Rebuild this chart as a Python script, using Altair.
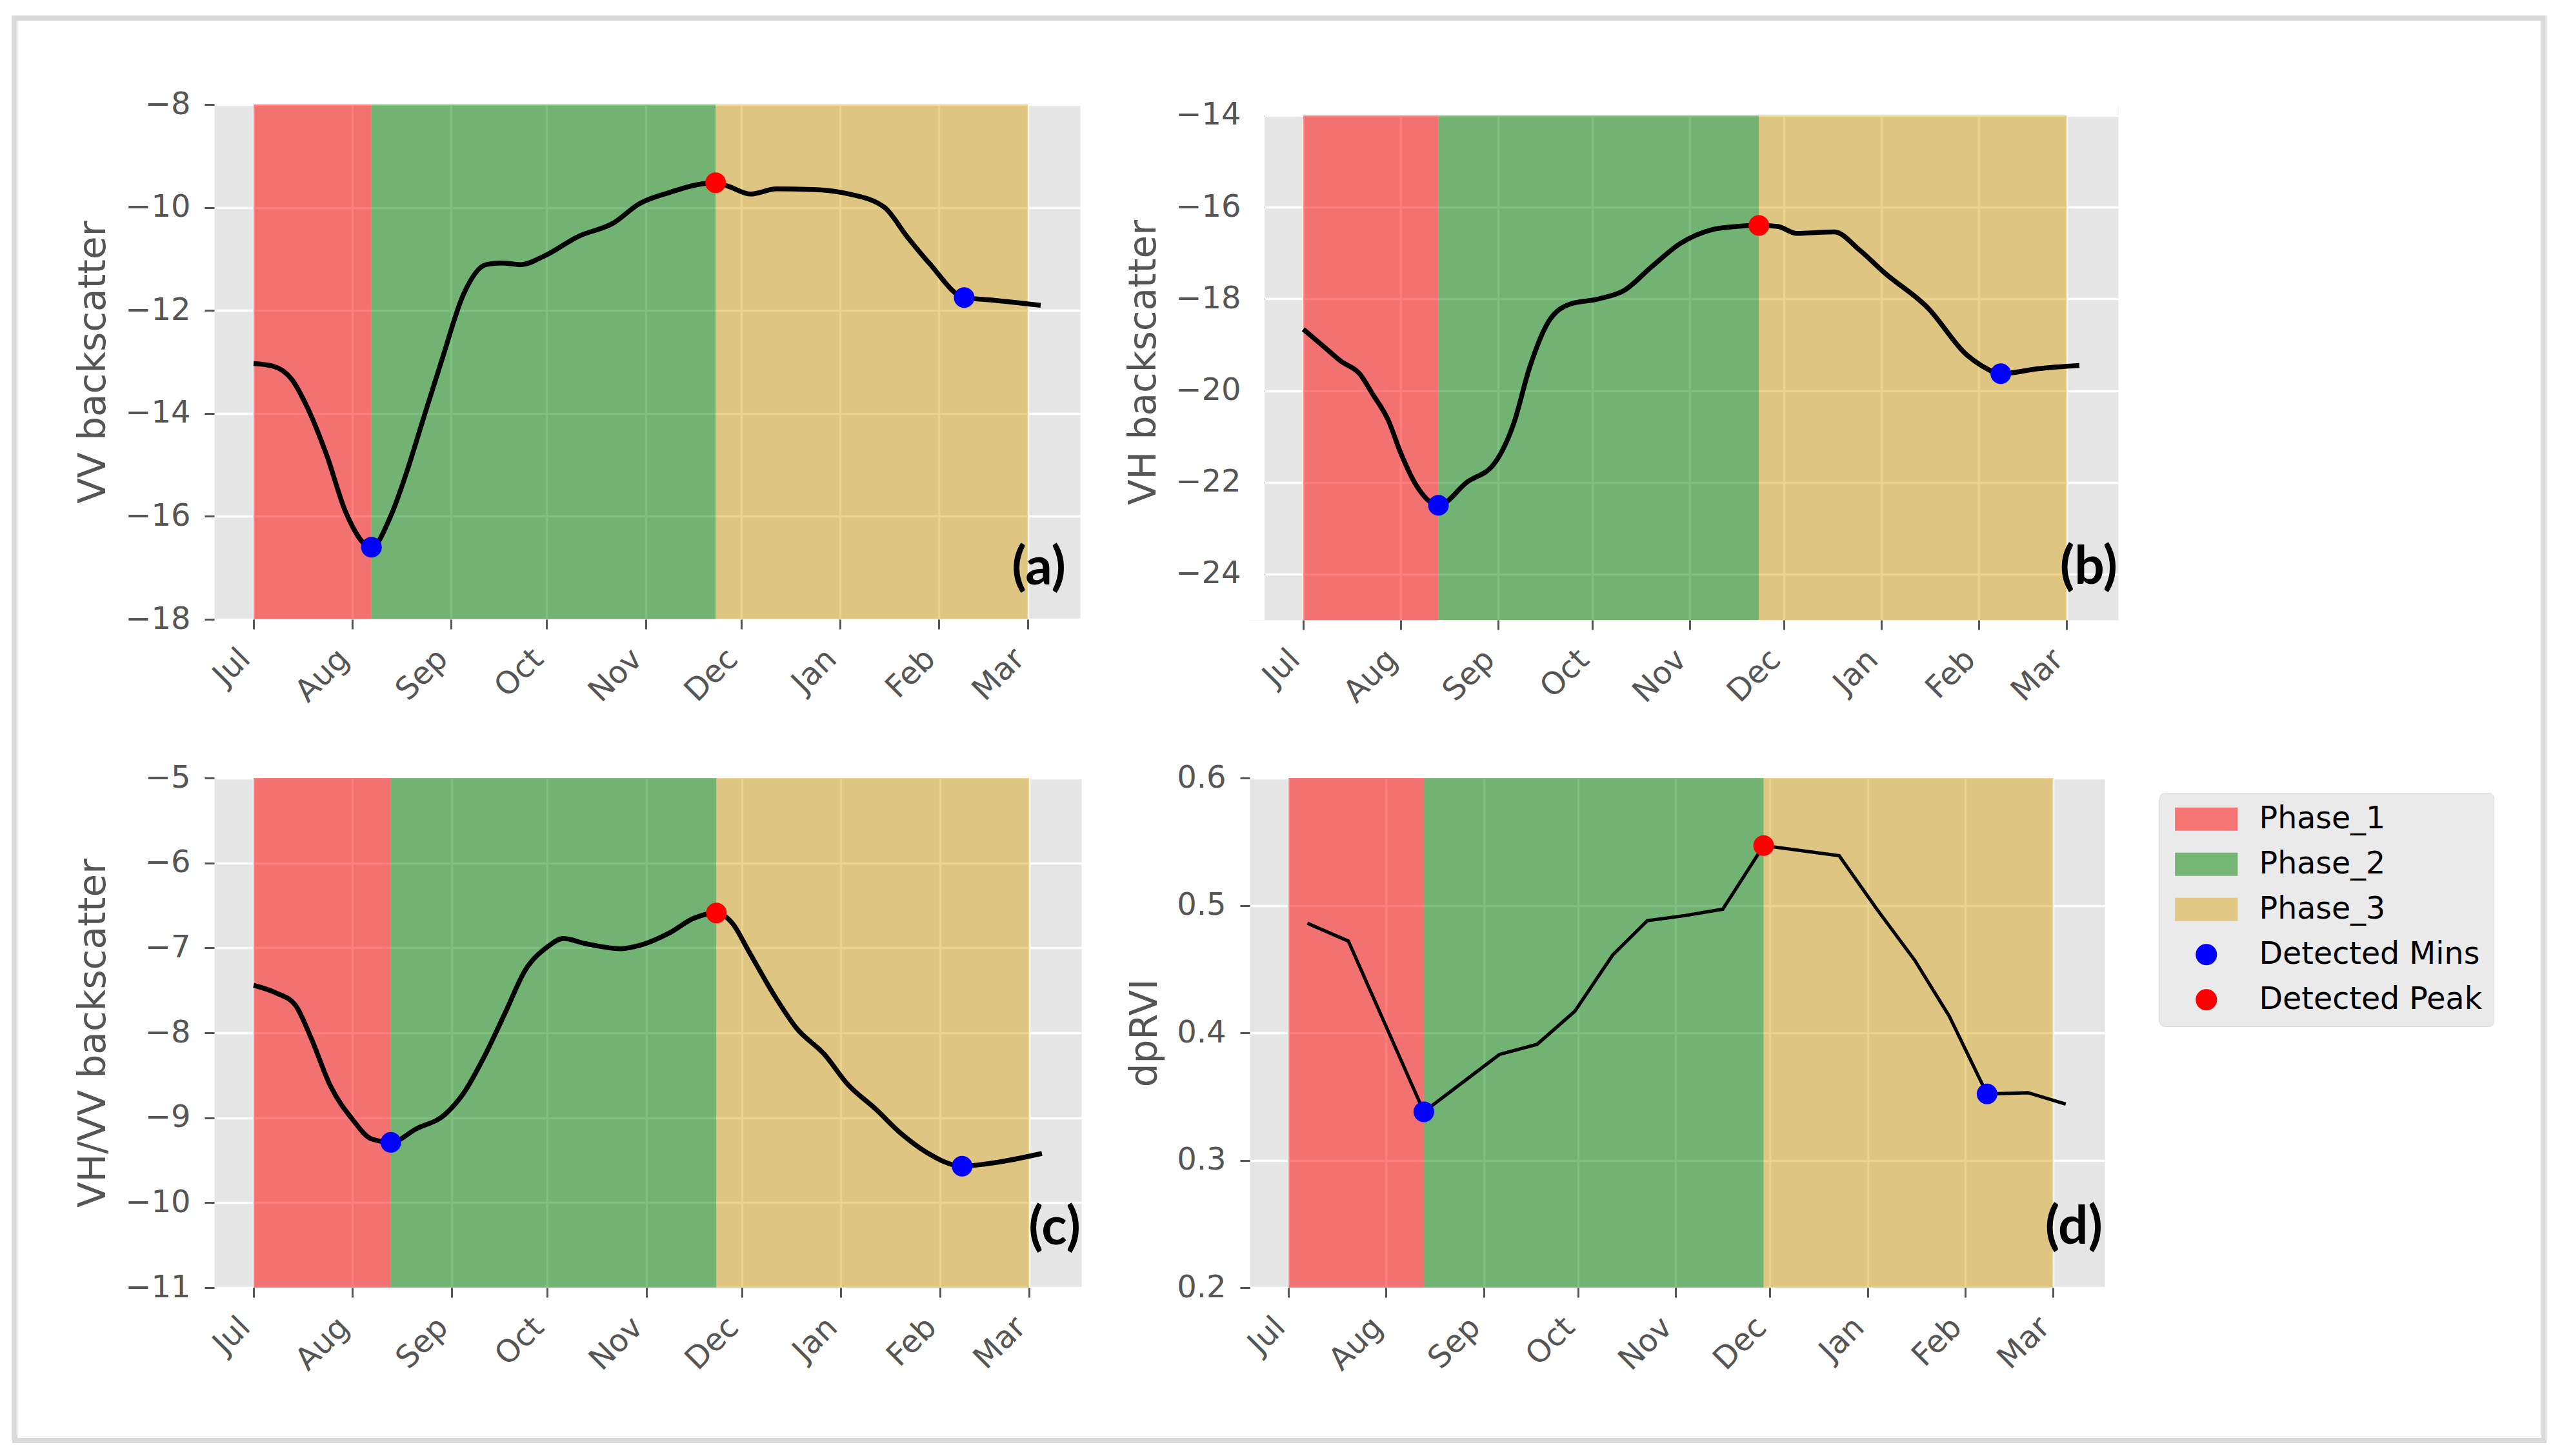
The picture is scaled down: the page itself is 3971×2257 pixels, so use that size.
import altair as alt
import pandas as pd

# ---------------- data ----------------
a_dates = ["2020-07-01", "2020-07-07", "2020-07-13", "2020-07-18", "2020-07-24", "2020-07-30",
           "2020-08-07", "2020-08-13", "2020-08-18", "2020-08-23", "2020-08-29", "2020-09-05",
           "2020-09-12", "2020-09-17", "2020-09-23", "2020-09-30", "2020-10-11", "2020-10-22",
           "2020-10-30", "2020-11-09", "2020-11-17", "2020-11-23", "2020-11-27", "2020-12-04",
           "2020-12-12", "2020-12-23", "2021-01-04", "2021-01-15", "2021-01-22", "2021-01-29",
           "2021-02-09", "2021-02-18", "2021-03-05"]
a_vals = [-13.03, -13.08, -13.34, -13.90, -14.82, -15.93, -16.60, -16.00, -15.15, -14.16, -12.98,
          -11.67, -11.11, -11.08, -11.11, -10.95, -10.56, -10.30, -9.93, -9.70, -9.56, -9.52,
          -9.59, -9.74, -9.64, -9.65, -9.74, -10.00, -10.56, -11.08, -11.75, -11.80, -11.90]
a_bounds = ["2020-07-01", "2020-08-07", "2020-11-23", "2021-03-01"]
a_min_dates = ["2020-08-07", "2021-02-09"]
a_min_vals = [-16.60, -11.75]
a_peak_date = "2020-11-23"
a_peak_val = -9.52

b_dates = ["2020-07-01", "2020-07-08", "2020-07-13", "2020-07-19", "2020-07-23", "2020-07-28",
           "2020-08-01", "2020-08-06", "2020-08-13", "2020-08-22", "2020-08-31", "2020-09-06",
           "2020-09-11", "2020-09-17", "2020-09-24", "2020-10-03", "2020-10-11", "2020-10-20",
           "2020-10-29", "2020-11-08", "2020-11-16", "2020-11-23", "2020-11-29", "2020-12-05",
           "2020-12-17", "2020-12-25", "2021-01-02", "2021-01-16", "2021-01-28", "2021-02-02",
           "2021-02-08", "2021-02-20", "2021-03-05"]
b_vals = [-18.66, -19.07, -19.36, -19.64, -20.07, -20.64, -21.36, -22.07, -22.50, -22.00, -21.57,
          -20.71, -19.50, -18.50, -18.11, -18.00, -17.82, -17.29, -16.79, -16.49, -16.42, -16.40,
          -16.42, -16.57, -16.54, -16.93, -17.43, -18.21, -19.21, -19.46, -19.63, -19.52, -19.45]
b_bounds = ["2020-07-01", "2020-08-13", "2020-11-23", "2021-03-01"]
b_min_dates = ["2020-08-13", "2021-02-08"]
b_min_vals = [-22.50, -19.63]
b_peak_date = "2020-11-23"
b_peak_val = -16.40

c_dates = ["2020-07-01", "2020-07-08", "2020-07-14", "2020-07-19", "2020-07-25", "2020-08-01",
           "2020-08-07", "2020-08-13", "2020-08-21", "2020-08-30", "2020-09-05", "2020-09-11",
           "2020-09-18", "2020-09-24", "2020-10-01", "2020-10-06", "2020-10-13", "2020-10-24",
           "2020-10-30", "2020-11-08", "2020-11-16", "2020-11-23", "2020-11-28", "2020-12-03",
           "2020-12-11", "2020-12-18", "2020-12-27", "2021-01-03", "2021-01-12", "2021-01-20",
           "2021-01-28", "2021-02-08", "2021-02-18", "2021-03-05"]
c_vals = [-7.44, -7.53, -7.67, -8.06, -8.62, -9.02, -9.25, -9.29, -9.13, -8.96, -8.70, -8.30,
          -7.75, -7.27, -6.99, -6.89, -6.95, -7.01, -6.97, -6.83, -6.65, -6.59, -6.71, -7.03,
          -7.55, -7.94, -8.26, -8.60, -8.90, -9.19, -9.41, -9.57, -9.53, -9.42]
c_bounds = ["2020-07-01", "2020-08-13", "2020-11-23", "2021-03-01"]
c_min_dates = ["2020-08-13", "2021-02-08"]
c_min_vals = [-9.29, -9.57]
c_peak_date = "2020-11-23"
c_peak_val = -6.59

d_dates = ["2020-07-07", "2020-07-20", "2020-08-13", "2020-09-06", "2020-09-18", "2020-09-30",
           "2020-10-12", "2020-10-23", "2020-11-04", "2020-11-16", "2020-11-29", "2020-12-23",
           "2021-01-04", "2021-01-16", "2021-01-27", "2021-02-08", "2021-02-21", "2021-03-05"]
d_vals = [0.486, 0.472, 0.338, 0.383, 0.391, 0.417, 0.461, 0.488, 0.492, 0.497, 0.547, 0.539,
          0.497, 0.457, 0.413, 0.352, 0.353, 0.344]
d_bounds = ["2020-07-01", "2020-08-13", "2020-11-29", "2021-03-01"]
d_min_dates = ["2020-08-13", "2021-02-08"]
d_min_vals = [0.338, 0.352]
d_peak_date = "2020-11-29"
d_peak_val = 0.547

LABELS = ["Phase_1", "Phase_2", "Phase_3", "Detected Mins", "Detected Peak"]
COLORS = ["rgba(255,0,0,0.5)", "rgba(0,128,0,0.5)", "rgba(218,165,32,0.5)", "#0000FF", "#FF0000"]
RECT_PATH = "M-2.7,-1H2.7V1H-2.7Z"
DOT_PATH = "M0.92,0A0.92,0.92,0,1,1,-0.92,0A0.92,0.92,0,1,1,0.92,0Z"
SHAPES = [RECT_PATH, RECT_PATH, RECT_PATH, DOT_PATH, DOT_PATH]
TAGS = ["(a)", "(b)", "(c)", "(d)"]


def utc(y, m, d, h=0, mi=0):
    return alt.DateTime(year=y, month=m, date=d, hours=h, minutes=mi, utc=True)


XDOM = [utc(2020, 6, 18, 15, 36), utc(2021, 3, 17, 8, 24)]
XDOM_B = [utc(2020, 6, 13, 22, 15), utc(2021, 3, 17, 8, 24)]   # panel b view starts 23px left of its plot
XTICKS = [utc(2020, m, 1) for m in range(7, 13)] + [utc(2021, m, 1) for m in range(1, 4)]


def panel(dates, vals, bounds, min_dates, min_vals, peak_date, peak_val,
          ydom, yticks, ytitle, tag, w, h, tag_x, tag_y, sw, interp, legend,
          yfmt=None, frame=False, xdom=XDOM, masks=(), yoffset=0):
    line_df = pd.DataFrame({"date": dates, "value": vals})
    phase_df = pd.DataFrame({"start": bounds[:-1], "end": bounds[1:], "label": LABELS[:3]})
    pts_df = pd.DataFrame({
        "date": min_dates + [peak_date],
        "value": min_vals + [peak_val],
        "label": ["Detected Mins"] * len(min_dates) + ["Detected Peak"],
    })
    tag_df = pd.DataFrame({"tag": [tag]})

    xscale = alt.Scale(type="utc", domain=xdom)
    xaxis = alt.Axis(values=XTICKS, labelExpr="utcFormat(datum.value, '%b')", title=None)
    yaxis_kw = dict(values=yticks, title=ytitle)
    if yfmt:
        yaxis_kw["format"] = yfmt
    if yoffset:
        yaxis_kw["offset"] = yoffset
    yenc = alt.Y("value:Q", scale=alt.Scale(domain=ydom, nice=False, zero=False),
                 axis=alt.Axis(**yaxis_kw))
    cscale = alt.Scale(domain=LABELS, range=COLORS)
    sscale = alt.Scale(domain=LABELS, range=SHAPES)

    rects = alt.Chart(phase_df).mark_rect().encode(
        x=alt.X("start:T", scale=xscale, axis=xaxis),
        x2="end:T",
        color=alt.Color("label:N", scale=cscale, legend=legend),
    )
    line = alt.Chart(line_df).mark_line(color="black", strokeWidth=sw, interpolate=interp).encode(
        x=alt.X("date:T", scale=xscale, axis=xaxis),
        y=yenc,
    )
    pts = alt.Chart(pts_df).mark_point(filled=True, opacity=1, size=1210, strokeWidth=0).encode(
        x=alt.X("date:T", scale=xscale, axis=xaxis),
        y=yenc,
        color=alt.Color("label:N", scale=cscale, legend=legend),
        shape=alt.Shape("label:N", scale=sscale, legend=legend),
    )
    layers = [rects, line, pts]
    for (mx, mx2, my, my2) in masks:
        layers.append(alt.Chart(tag_df).mark_rect(color="white").encode(
            x=alt.value(mx), x2=alt.value(mx2), y=alt.value(my), y2=alt.value(my2)))
    text = alt.Chart(tag_df).mark_text(
        align="right", baseline="middle", font="Lato", fontWeight="bold",
        fontSize=82, color="black",
    ).encode(text="tag:N", x=alt.value(tag_x), y=alt.value(tag_y))
    layers.append(text)
    if frame:
        border = alt.Chart(tag_df).mark_rect(
            fill="transparent", stroke="#D9D9D9", strokeWidth=8
        ).encode(x=alt.value(-309), x2=alt.value(3611), y=alt.value(-134), y2=alt.value(2071))
        layers.append(border)
    return alt.layer(*layers).properties(width=w, height=h)


legend_d = alt.Legend(
    orient="none", legendX=1410, legendY=23, title=None,
    symbolSize=1296, symbolOffset=32, labelOffset=58, symbolStrokeWidth=0,
    labelFont="DejaVu Sans", labelFontSize=47.5, labelColor="black", labelLimit=800,
    padding=17, rowPadding=21, fillColor="#EAEAEA", strokeColor="#DCDCDC", cornerRadius=8,
)

pa = panel(a_dates, a_vals, a_bounds, a_min_dates, a_min_vals, a_peak_date, a_peak_val,
           [-18, -8], [-18, -16, -14, -12, -10, -8], "VV backscatter", TAGS[0],
           1342, 798, 1320, 719, 7.5, "monotone", None, frame=True)
pb = panel(b_dates, b_vals, b_bounds, b_min_dates, b_min_vals, b_peak_date, b_peak_val,
           [-25, -13.761], [-24, -22, -20, -18, -16, -14], "VH backscatter", TAGS[1],
           1346, 799, 1345, 718, 7.5, "monotone", None,
           xdom=XDOM_B, masks=[(0, 1346, 0, 17), (0, 23, 0, 799)], yoffset=-23)
pc = panel(c_dates, c_vals, c_bounds, c_min_dates, c_min_vals, c_peak_date, c_peak_val,
           [-11, -5], [-11, -10, -9, -8, -7, -6, -5], "VH/VV backscatter", TAGS[2],
           1344, 790, 1343, 698, 7.5, "monotone", None)
pd_ = panel(d_dates, d_vals, d_bounds, d_min_dates, d_min_vals, d_peak_date, d_peak_val,
            [0.2, 0.6], [0.2, 0.3, 0.4, 0.5, 0.6], "dpRVI", TAGS[3],
            1325, 790, 1322, 697, 5.2, "linear", legend_d, yfmt=".1f")

chart = alt.concat(
    pa, pb, pc, pd_, columns=2, spacing={"row": 245, "column": 261},
    bounds="flush", align="each",
).resolve_scale(
    color="independent", shape="independent"
).resolve_legend(
    color="independent", shape="independent"
).properties(
    padding={"left": 10, "top": 15, "right": 10, "bottom": 5}
).configure(
    font="DejaVu Sans", background="white"
).configure_view(
    fill="#E5E5E5", stroke="transparent"
).configure_axis(
    labelFont="DejaVu Sans", labelFontSize=48, labelColor="#555555",
    titleFont="DejaVu Sans", titleFontSize=58, titleFontWeight="normal", titleColor="#555555",
    tickColor="#555555", tickSize=15, tickWidth=3, domain=False,
    gridColor="#FFFFFF", gridWidth=3.5, gridOpacity=1,
    labelFlush=False, labelOverlap=False,
).configure_axisX(
    labelAngle=315, labelAlign="right", labelBaseline="top", labelPadding=22, labelOffset=-30,
).configure_axisY(
    labelPadding=22, titlePadding=19,
)

chart.save("out.html", embed_options={"renderer": "svg", "actions": False})
